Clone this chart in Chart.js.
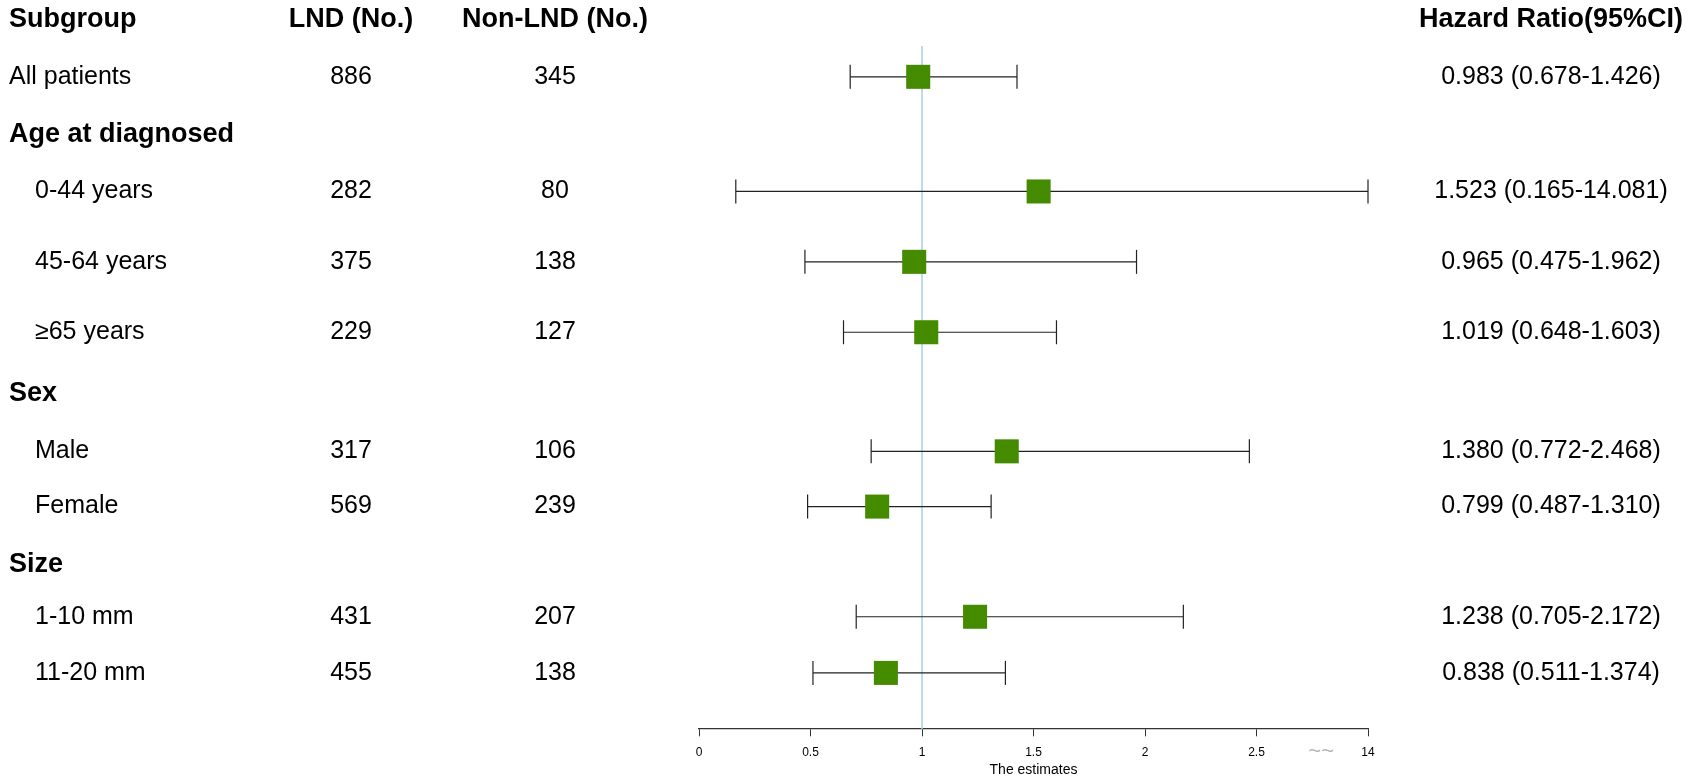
<!DOCTYPE html>
<html>
<head>
<meta charset="utf-8">
<script src="https://cdn.jsdelivr.net/npm/chart.js@4.4.1/dist/chart.umd.min.js"></script>
<style>
  html, body { margin: 0; padding: 0; background: #fff; }
  #wrap { width: 1697px; height: 783px; }
</style>
</head>
<body>
<div id="wrap"><canvas id="forest" width="1697" height="783"></canvas></div>
<script>
// table rows (after the header row)
const subgroups = ['All patients', 'Age at diagnosed', '0-44 years', '45-64 years', '\u226565 years',
  'Sex', 'Male', 'Female', 'Size', '1-10 mm', '11-20 mm'];
const groupTitle = [false, true, false, false, false, true, false, false, true, false, false];
const indented = [false, false, true, true, true, false, true, true, false, true, true];
const lndCounts = [886, null, 282, 375, 229, null, 317, 569, null, 431, 455];
const nonLndCounts = [345, null, 80, 138, 127, null, 106, 239, null, 207, 138];
const hazardRatio = [0.983, null, 1.523, 0.965, 1.019, null, 1.380, 0.799, null, 1.238, 0.838];
const ciLower = [0.678, null, 0.165, 0.475, 0.648, null, 0.772, 0.487, null, 0.705, 0.511];
const ciUpper = [1.426, null, 14.081, 1.962, 1.603, null, 2.468, 1.310, null, 2.172, 1.374];
const headers = ['Subgroup', 'LND (No.)', 'Non-LND (No.)', 'Hazard Ratio(95%CI)'];

// x axis: broken at the right end, last tick stands for 14
const tickValues = [0, 0.5, 1, 1.5, 2, 2.5, 3];
const tickLabels = ['0', '0.5', '1', '1.5', '2', '2.5', '14'];
const axisMax = 3;
const refValue = 1;

// layout: row positions in row units (header = 0), the plot's row spacing is not quite even
const rowPos = [0, 0.965, 1.93, 2.895, 4.08, 5.265, 6.3, 7.27, 8.2, 9.18, 10.055, 11.0];
const axisRow = 11.944;
const refLineTop = 0.445;

const FONT = '"Liberation Sans", Arial, sans-serif';
const boxColor = '#458B00';

var datasets = [];
// reference line
datasets.push({
  type: 'line',
  data: [{x: refValue, y: refLineTop}, {x: refValue, y: axisRow}],
  borderColor: '#a6d2e0',
  borderWidth: 1.5,
  pointRadius: 0,
  clip: false,
  order: 3
});
for (var i = 0; i < subgroups.length; i++) {
  if (hazardRatio[i] === null) continue;
  var row = rowPos[i + 1];
  datasets.push({
    type: 'line',
    data: [{x: ciLower[i], y: row}, {x: Math.min(ciUpper[i], axisMax), y: row}],
    borderColor: '#222',
    borderWidth: 1.2,
    pointStyle: 'line',
    rotation: 90,
    pointRadius: 12,
    pointBorderColor: '#222',
    pointBorderWidth: 1.2,
    clip: false,
    order: 2
  });
}
datasets.push({
  type: 'scatter',
  data: hazardRatio.map(function (v, i) { return v === null ? null : {x: v, y: rowPos[i + 1]}; }).filter(Boolean),
  pointStyle: 'rect',
  pointRadius: 17,
  backgroundColor: boxColor,
  borderColor: boxColor,
  borderWidth: 0,
  clip: false,
  order: 1
});

// the text table drawn around the plot
const tablePlugin = {
  id: 'forestTable',
  afterDraw: function (chart) {
    const ctx = chart.ctx;
    const ys = chart.scales.y;
    const xs = chart.scales.x;
    const colLnd = 351, colNon = 555, colHr = 1551;
    ctx.save();
    ctx.fillStyle = '#000';
    ctx.textBaseline = 'middle';

    // header
    var yh = ys.getPixelForValue(rowPos[0]);
    ctx.font = 'bold 27px ' + FONT;
    ctx.textAlign = 'left';
    ctx.fillText(headers[0], 9, yh);
    ctx.textAlign = 'center';
    ctx.fillText(headers[1], colLnd, yh);
    ctx.fillText(headers[2], colNon, yh);
    ctx.fillText(headers[3], colHr, yh);

    for (var i = 0; i < subgroups.length; i++) {
      var y = ys.getPixelForValue(rowPos[i + 1]);
      ctx.textAlign = 'left';
      ctx.font = (groupTitle[i] ? 'bold 27px ' : '25px ') + FONT;
      ctx.fillText(subgroups[i], indented[i] ? 35 : 9, y);
      if (hazardRatio[i] === null) continue;
      ctx.font = '25px ' + FONT;
      ctx.textAlign = 'center';
      ctx.fillText(String(lndCounts[i]), colLnd, y);
      ctx.fillText(String(nonLndCounts[i]), colNon, y);
      ctx.fillText(hazardRatio[i].toFixed(3) + ' (' + ciLower[i].toFixed(3) + '-' + ciUpper[i].toFixed(3) + ')', colHr, y);
    }

    // axis title and break mark
    var axisY = ys.getPixelForValue(axisRow);
    ctx.font = '14px ' + FONT;
    ctx.textAlign = 'center';
    ctx.fillText('The estimates', (xs.left + xs.right) / 2, axisY + 41);
    ctx.fillStyle = '#b4b4b4';
    ctx.font = '22px ' + FONT;
    ctx.fillText('~~', xs.getPixelForValue(2.79), axisY + 23);
    ctx.restore();
  }
};

new Chart(document.getElementById('forest'), {
  type: 'scatter',
  data: { datasets: datasets },
  options: {
    responsive: false,
    animation: false,
    devicePixelRatio: 1,
    layout: { padding: { left: 699, right: 329, top: 40, bottom: 40 } },
    plugins: { legend: { display: false }, tooltip: { enabled: false } },
    scales: {
      x: {
        type: 'linear',
        min: 0,
        max: axisMax,
        position: { y: axisRow },
        grid: { display: true, drawOnChartArea: false, drawTicks: true, tickLength: 7, color: '#333', lineWidth: 1 },
        border: { display: true, color: '#333', width: 1.3 },
        afterBuildTicks: function (scale) {
          scale.ticks = tickValues.map(function (v) { return {value: v}; });
        },
        ticks: {
          autoSkip: false,
          maxRotation: 0,
          padding: 10,
          color: '#000',
          font: { family: FONT, size: 12 },
          callback: function (value) {
            var k = tickValues.indexOf(value);
            return k >= 0 ? tickLabels[k] : '';
          }
        }
      },
      y: {
        type: 'linear',
        display: false,
        reverse: true,
        // chart area runs 40..743 px, one row unit is 59.4 px with the header at 19.5 px
        min: (40 - 19.5) / 59.4,
        max: (743 - 19.5) / 59.4
      }
    }
  },
  plugins: [tablePlugin]
});
</script>
</body>
</html>
